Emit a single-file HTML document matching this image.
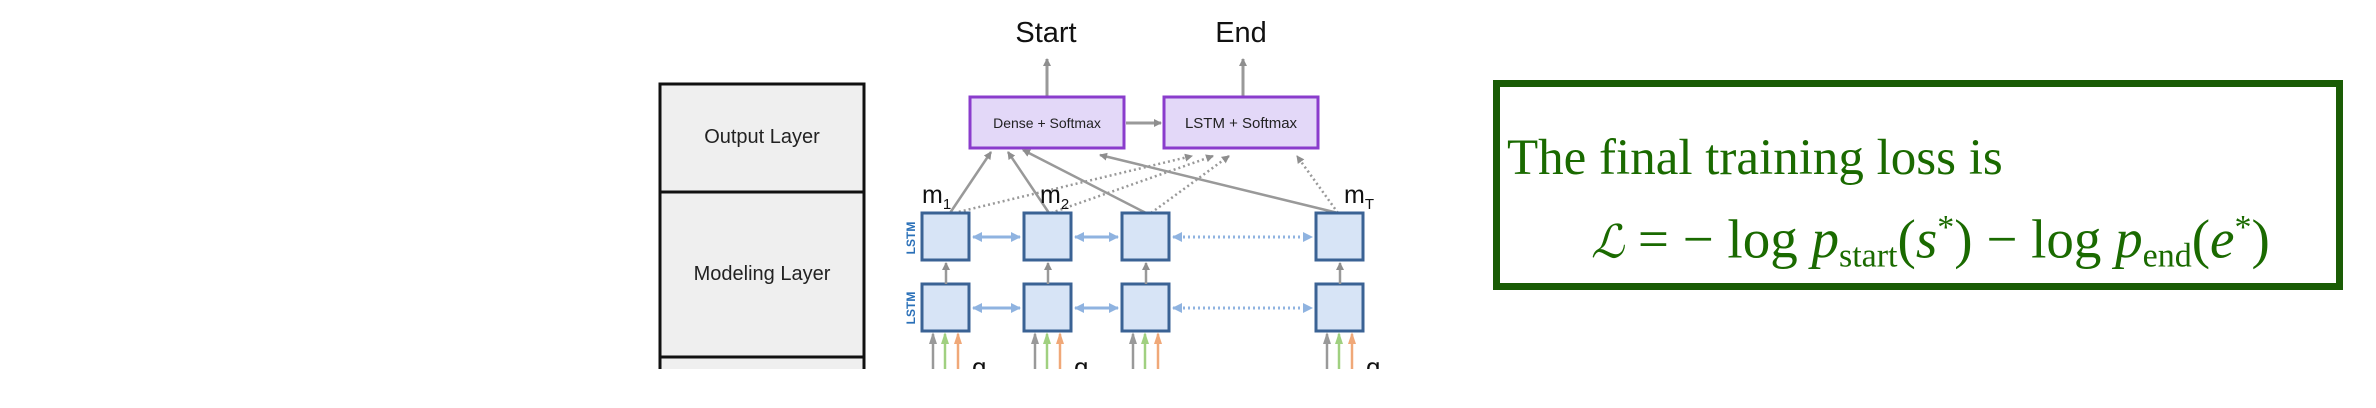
<!DOCTYPE html>
<html><head><meta charset="utf-8">
<style>
html,body{margin:0;padding:0;background:#fff;width:2376px;height:408px;overflow:hidden}
svg text{font-family:"Liberation Sans",sans-serif}
#loss{position:absolute;left:1493px;top:80px;border:7px solid #1a5c05;box-sizing:content-box;width:836px;height:196px}
.mt{font-family:"Liberation Serif",serif;color:#1a6a00;position:absolute;white-space:nowrap}
</style></head><body>
<svg width="2376" height="408" style="position:absolute;left:0;top:0">
<defs>
<marker id="ag" markerWidth="8" markerHeight="8" refX="7" refY="4" orient="auto" markerUnits="userSpaceOnUse"><path d="M0,0 L8,4 L0,8z" fill="#8e8e8e"/></marker>
<marker id="ab" markerWidth="10" markerHeight="10" refX="9" refY="5" orient="auto-start-reverse" markerUnits="userSpaceOnUse"><path d="M0,0 L10,5 L0,10z" fill="#8fb3e0"/></marker>
<marker id="agr" markerWidth="12" markerHeight="8" refX="10" refY="4" orient="auto" markerUnits="userSpaceOnUse"><path d="M0,0 L12,4 L0,8z" fill="#a0d080"/></marker>
<marker id="aor" markerWidth="12" markerHeight="8" refX="10" refY="4" orient="auto" markerUnits="userSpaceOnUse"><path d="M0,0 L12,4 L0,8z" fill="#f0a878"/></marker>
<marker id="agy" markerWidth="12" markerHeight="8" refX="10" refY="4" orient="auto" markerUnits="userSpaceOnUse"><path d="M0,0 L12,4 L0,8z" fill="#999"/></marker>
</defs>
<g>
<rect x="660" y="84" width="204" height="290" fill="#efefef" stroke="#111" stroke-width="3"/>
<line x1="660" y1="192" x2="864" y2="192" stroke="#111" stroke-width="3"/>
<line x1="660" y1="357" x2="864" y2="357" stroke="#111" stroke-width="3"/>
<text x="762" y="143" font-size="20" text-anchor="middle" fill="#222">Output Layer</text>
<text x="762" y="280" font-size="20" text-anchor="middle" fill="#222">Modeling Layer</text>
</g>
<text x="1046" y="42" font-size="29" text-anchor="middle" fill="#111">Start</text>
<text x="1241" y="42" font-size="29" text-anchor="middle" fill="#111">End</text>
<line x1="1047" y1="97" x2="1047" y2="59" stroke="#999" stroke-width="3" marker-end="url(#ag)"/>
<line x1="1243" y1="97" x2="1243" y2="59" stroke="#999" stroke-width="3" marker-end="url(#ag)"/>
<rect x="970" y="97" width="154" height="51" fill="#e3d8f8" stroke="#8a3ccc" stroke-width="3"/>
<text x="1047" y="128" font-size="14" text-anchor="middle" fill="#222">Dense + Softmax</text>
<rect x="1164" y="97" width="154" height="51" fill="#e3d8f8" stroke="#8a3ccc" stroke-width="3"/>
<text x="1241" y="128" font-size="15" text-anchor="middle" fill="#222">LSTM + Softmax</text>
<line x1="1126" y1="123" x2="1161" y2="123" stroke="#999" stroke-width="3" marker-end="url(#ag)"/>
<g stroke="#999" stroke-width="2.5" fill="none">
<line x1="950" y1="213" x2="991" y2="152" marker-end="url(#ag)"/>
<line x1="1049" y1="213" x2="1008" y2="152" marker-end="url(#ag)"/>
<line x1="1146" y1="213" x2="1023" y2="150" marker-end="url(#ag)"/>
<line x1="1338" y1="213" x2="1100" y2="155" marker-end="url(#ag)"/>
</g>
<g stroke="#999" stroke-width="2.5" stroke-dasharray="2,3" fill="none">
<line x1="954" y1="213" x2="1192" y2="156" marker-end="url(#ag)"/>
<line x1="1051" y1="213" x2="1213" y2="156" marker-end="url(#ag)"/>
<line x1="1151" y1="213" x2="1229" y2="156" marker-end="url(#ag)"/>
<line x1="1338" y1="213" x2="1297" y2="156" marker-end="url(#ag)"/>
</g>
<g font-size="25" fill="#111">
<text x="922" y="203">m<tspan font-size="15" dy="6">1</tspan></text>
<text x="1040" y="203">m<tspan font-size="15" dy="6">2</tspan></text>
<text x="1344" y="203">m<tspan font-size="15" dy="6">T</tspan></text>
</g>
<g font-size="12" font-weight="bold" fill="#2a70b8">
<text transform="translate(915,238) rotate(-90)" text-anchor="middle">LSTM</text>
<text transform="translate(915,308) rotate(-90)" text-anchor="middle">LSTM</text>
</g>
<g id="cells"></g>
</svg>
<div id="loss"></div>
<div class="mt" style="left:1507px;top:128px;font-size:51px;line-height:60px">The final training loss is</div>
<div class="mt" style="left:1591px;top:198px;font-size:55px;line-height:60px"><i style="font-family:'DejaVu Serif',serif;font-size:46px">ℒ</i> = − log <i>p</i><sub style="font-size:34px;vertical-align:-9px">start</sub>(<i>s</i><sup style="font-size:34px">*</sup>) − log <i>p</i><sub style="font-size:34px;vertical-align:-9px">end</sub>(<i>e</i><sup style="font-size:34px">*</sup>)</div>
<script>
const cellX=[922,1024,1122,1316];
const qLabels=['q','q','q','q'];
const rowY=[213,284];
const NS='http://www.w3.org/2000/svg';
const g=document.getElementById('cells');
function mk(t,a){const e=document.createElementNS(NS,t);for(const k in a)e.setAttribute(k,a[k]);g.appendChild(e);return e;}
cellX.forEach((x,i)=>{
 rowY.forEach((y,r)=>{
  const c=mk('rect',{x:x,y:y,width:47,height:47,fill:'#d7e4f6',stroke:'#3a6294','stroke-width':3});
  
  
  if(i<cellX.length-1){
   const nx=cellX[i+1];
   mk('line',{x1:x+51,y1:y+24,x2:nx-4,y2:y+24,stroke:'#8fb3e0','stroke-width':3,'stroke-dasharray':i==2?'2,3':'none','marker-end':'url(#ab)','marker-start':'url(#ab)'});
  }
 });
 mk('line',{x1:x+24,y1:284,x2:x+24,y2:263,stroke:'#999','stroke-width':2.5,'marker-end':'url(#ag)'});
 mk('line',{x1:x+11,y1:370,x2:x+11,y2:334,stroke:'#999','stroke-width':2.5,'marker-end':'url(#agy)'});
 mk('line',{x1:x+23,y1:370,x2:x+23,y2:334,stroke:'#a0d080','stroke-width':2.5,'marker-end':'url(#agr)'});
 mk('line',{x1:x+36,y1:370,x2:x+36,y2:334,stroke:'#f0a878','stroke-width':2.5,'marker-end':'url(#aor)'});
 if(i!==2){const q=mk('text',{x:x+50,y:376,'font-size':26,fill:'#111'});q.textContent=qLabels[i];
 
 }
});
mk('rect',{x:600,y:369,width:800,height:40,fill:'#fff'});
</script>
</body></html>
